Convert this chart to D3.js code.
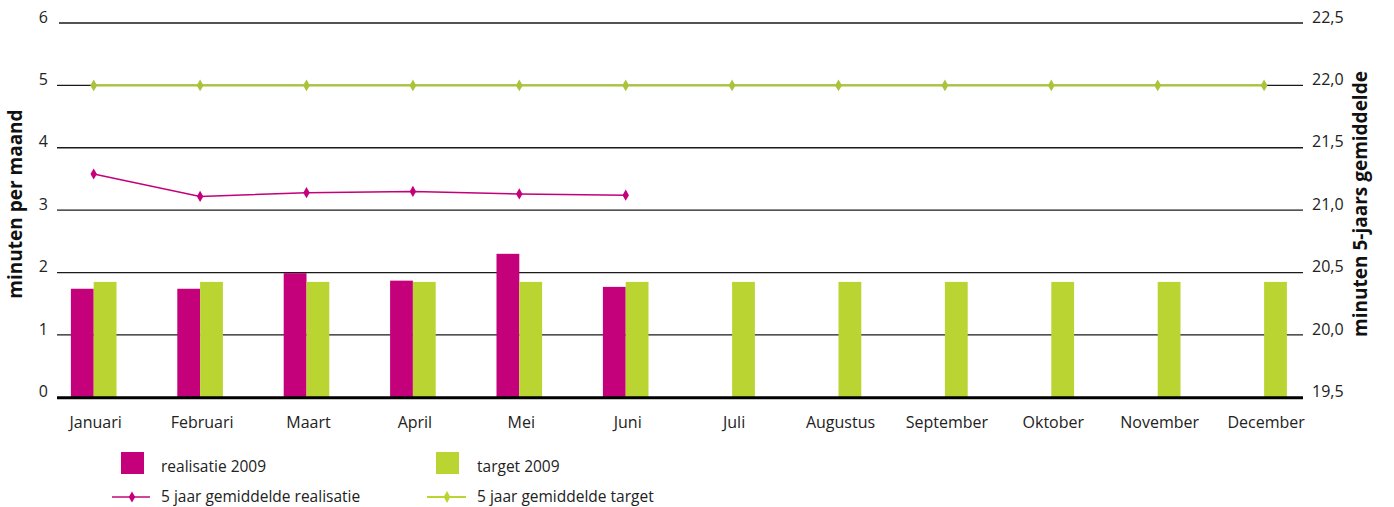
<!DOCTYPE html>
<html><head><meta charset="utf-8">
<script src="https://cdn.jsdelivr.net/npm/d3@7"></script>
<style>body{margin:0;background:#fff}svg{display:block;font-family:"Open Sans",sans-serif}</style>
</head><body><svg id="c" width="1394" height="507"></svg>
<script>
const months = ["Januari","Februari","Maart","April","Mei","Juni","Juli","Augustus","September","Oktober","November","December"];
const realisatie2009 = [1.74,1.74,1.99,1.87,2.30,1.77,null,null,null,null,null,null];
const target2009 = [1.85,1.85,1.85,1.85,1.85,1.85,1.85,1.85,1.85,1.85,1.85,1.85];
const gemRealisatie = [21.29,21.11,21.14,21.15,21.13,21.12,null,null,null,null,null,null];
const gemTarget = [22.0,22.0,22.0,22.0,22.0,22.0,22.0,22.0,22.0,22.0,22.0,22.0];
const leftTicks = [0,1,2,3,4,5,6];
const rightTicks = [19.5,20.0,20.5,21.0,21.5,22.0,22.5];
const legendItems = ["realisatie 2009","target 2009","5 jaar gemiddelde realisatie","5 jaar gemiddelde target"];

const MAG = "#c4007a", GRN = "#bad532", GRNL = "#a9c43a";
const svg = d3.select("#c");
const x = d3.scaleBand().domain(months).range([40.5, 1317.3]);
const yL = d3.scaleLinear().domain([0,6]).range([397.3, 23]);
const yR = d3.scaleLinear().domain([19.5,22.5]).range([397.3, 23]);
const gx0 = 57, gx1 = 1303, bw = 22.8;
const cx = m => x(m) + x.bandwidth()/2;

// gridlines
svg.append("g").selectAll("line").data(leftTicks.filter(d=>d>0)).join("line")
  .attr("x1", d=>d===6?59:gx0).attr("x2", gx1).attr("y1", d=>yL(d)).attr("y2", d=>yL(d))
  .attr("stroke", "#1a1a1a").attr("stroke-width", 1.3);

// left axis labels
const axL = d3.axisLeft(yL).tickValues(leftTicks).tickSize(0).tickPadding(0).tickFormat(d3.format("d"));
const gL = svg.append("g").attr("transform","translate(48,0)").call(axL);
gL.select(".domain").remove();
gL.selectAll("text").attr("font-size",16).attr("fill","#222").attr("font-family","Open Sans").attr("dy","-0.05em");

const axR = d3.axisRight(yR).tickValues(rightTicks).tickSize(0).tickPadding(0).tickFormat(d=>d3.format(".1f")(d).replace(".",","));
const gR = svg.append("g").attr("transform","translate(1312,0)").call(axR);
gR.select(".domain").remove();
gR.selectAll("text").attr("font-size",16).attr("fill","#222").attr("font-family","Open Sans").attr("dy","-0.05em");

// bars
svg.append("g").selectAll("rect").data(months.map((m,i)=>({m,v:realisatie2009[i]})).filter(d=>d.v!=null)).join("rect")
  .attr("x", d=>cx(d.m)-bw).attr("width", bw).attr("y", d=>yL(d.v)).attr("height", d=>yL(0)-yL(d.v)).attr("fill", MAG);
svg.append("g").selectAll("rect").data(months.map((m,i)=>({m,v:target2009[i]}))).join("rect")
  .attr("x", d=>cx(d.m)).attr("width", bw).attr("y", d=>yL(d.v)).attr("height", d=>yL(0)-yL(d.v)).attr("fill", GRN);

// baseline
svg.append("line").attr("x1",gx0).attr("x2",gx1).attr("y1",yL(0)+0.5).attr("y2",yL(0)+0.5).attr("stroke","#000").attr("stroke-width",3);

// lines
function drawLine(vals, color, lw, sz){
  const pts = months.map((m,i)=>({m,v:vals[i]})).filter(d=>d.v!=null);
  svg.append("path").datum(pts).attr("fill","none").attr("stroke",color).attr("stroke-width",lw)
    .attr("d", d3.line().x(d=>cx(d.m)).y(d=>yR(d.v)));
  svg.append("g").selectAll("path").data(pts).join("path")
    .attr("transform", d=>`translate(${cx(d.m)},${yR(d.v)})`)
    .attr("d", d3.symbol(d3.symbolDiamond, sz)).attr("fill", color);
}
drawLine(gemTarget, GRNL, 2.2, 40);
drawLine(gemRealisatie, MAG, 1.5, 36);

// month labels
svg.append("g").selectAll("text").data(months).join("text")
  .attr("x", d=>cx(d)+2).attr("y", 428).attr("text-anchor","middle")
  .attr("font-size",16).attr("fill","#222").text(d=>d);

// axis titles
svg.append("text").attr("transform","translate(22,204) rotate(-90)").attr("text-anchor","middle")
  .attr("font-size",19).attr("font-weight","bold").attr("fill","#111").text("minuten per maand");
svg.append("text").attr("transform","translate(1367,204) rotate(-90)").attr("text-anchor","middle")
  .attr("font-size",19).attr("font-weight","bold").attr("fill","#111").text("minuten 5-jaars gemiddelde");

// legend
const lg = svg.append("g");
lg.append("rect").attr("x",121).attr("y",452).attr("width",23).attr("height",22).attr("fill",MAG);
lg.append("rect").attr("x",436).attr("y",452).attr("width",23).attr("height",22).attr("fill",GRN);
lg.append("line").attr("x1",112).attr("x2",150).attr("y1",497).attr("y2",497).attr("stroke","#d0479a").attr("stroke-width",1.8);
lg.append("path").attr("transform","translate(132,497)").attr("d",d3.symbol(d3.symbolDiamond,36)).attr("fill",MAG);
lg.append("line").attr("x1",427).attr("x2",466).attr("y1",497).attr("y2",497).attr("stroke",GRN).attr("stroke-width",2);
lg.append("path").attr("transform","translate(447,497)").attr("d",d3.symbol(d3.symbolDiamond,40)).attr("fill",GRN);
const lpos = [[161,472],[477,472],[161,502],[477,502]];
lg.selectAll("text").data(legendItems).join("text")
  .attr("x",(d,i)=>lpos[i][0]).attr("y",(d,i)=>lpos[i][1]).attr("font-size",15.5).attr("fill","#222").text(d=>d);
</script></body></html>
